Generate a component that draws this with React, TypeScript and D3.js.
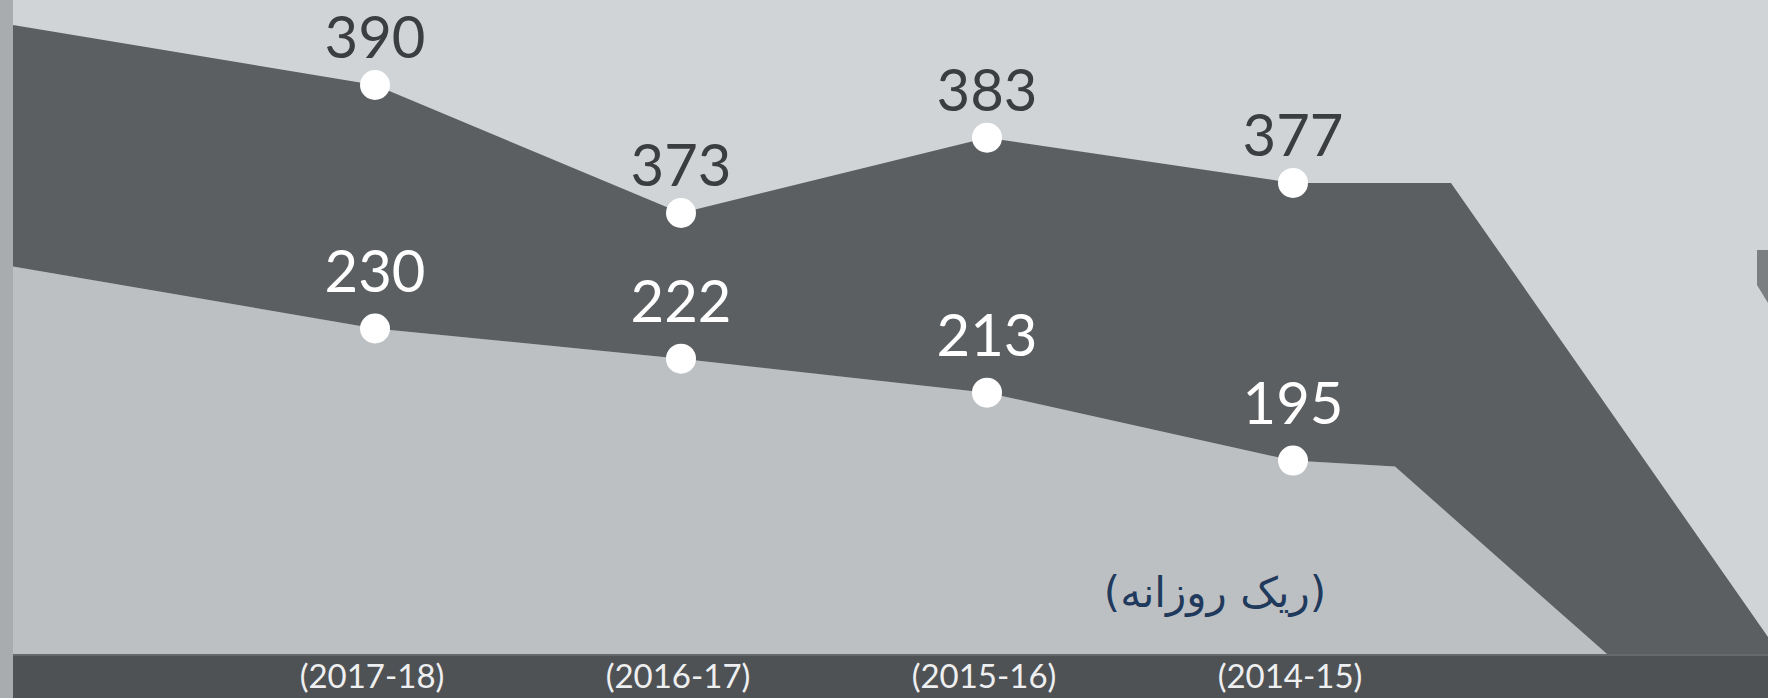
import React from "react";
import * as d3 from "d3";

const categories = ["(2017-18)", "(2016-17)", "(2015-16)", "(2014-15)"];
const upperValues = [390, 373, 383, 377];
const lowerValues = [230, 222, 213, 195];
const unitLabel = "(ریک روزانه)";

const W = 1768;
const H = 698;
const STRIP = 13;
const BAR_TOP = 654;

export default function App() {
  const x = d3.scalePoint<string>().domain(categories).range([375, 1293]);
  const yU = d3.scaleLinear().domain([373, 390]).range([213, 85]);
  const yL = d3.scaleLinear().domain([195, 230]).range([460.6, 328.5]);

  const up = categories.map((c, i) => [x(c) as number, yU(upperValues[i])] as [number, number]);
  const lo = categories.map((c, i) => [x(c) as number, yL(lowerValues[i])] as [number, number]);

  const lastU = up[up.length - 1];
  const lastL = lo[lo.length - 1];

  const topEdge: [number, number][] = [
    [STRIP, up[0][1] - 60],
    ...up,
    [lastU[0] + 158, lastU[1]],
    [W, BAR_TOP - 17],
    [W, BAR_TOP],
  ];
  const bottomEdge: [number, number][] = [
    [STRIP, lo[0][1] - 62],
    ...lo,
    [lastL[0] + 102, lastL[1] + 6],
    [lastL[0] + 314, BAR_TOP],
  ];
  const line = d3.line();
  const darkPath = line([...topEdge, ...bottomEdge.slice().reverse()]) + "Z";
  const lowerPath = line([...bottomEdge, [STRIP, BAR_TOP]]) + "Z";

  const font = "Lato, 'Open Sans', sans-serif";

  return (
    <svg
      width={W}
      height={H}
      style={{ position: "absolute", left: 0, top: 0, display: "block" }}
    >
      <rect x={0} y={0} width={W} height={H} fill="#d1d4d7" />
      <path d={lowerPath} fill="#bdc0c3" />
      <path d={darkPath} fill="#5c5f62" />
      <path d="M1757,250 L1768,250 L1768,303 L1757,285 Z" fill="#7c7f82" />
      <rect x={0} y={BAR_TOP} width={W} height={H - BAR_TOP} fill="#4f5255" />
      <rect x={0} y={BAR_TOP} width={W} height={2} fill="#66696c" />
      <rect x={0} y={0} width={STRIP} height={H} fill="#a8acaf" />

      {up.map((p, i) => (
        <g key={"u" + i}>
          <circle cx={p[0]} cy={p[1]} r={15} fill="#ffffff" />
          <text
            x={p[0]}
            y={p[1] - 27}
            textAnchor="middle"
            fontFamily={font}
            fontSize={58}
            fill="#3b3d40"
          >
            {upperValues[i]}
          </text>
        </g>
      ))}
      {lo.map((p, i) => (
        <g key={"l" + i}>
          <circle cx={p[0]} cy={p[1]} r={15} fill="#ffffff" />
          <text
            x={p[0]}
            y={p[1] - 37}
            textAnchor="middle"
            fontFamily={font}
            fontSize={58}
            fill="#ffffff"
          >
            {lowerValues[i]}
          </text>
        </g>
      ))}

      {categories.map((c) => (
        <text
          key={c}
          x={(x(c) as number) - 3}
          y={688}
          textAnchor="middle"
          fontFamily={font}
          fontSize={33}
          fill="#eeeff0"
        >
          {c}
        </text>
      ))}

      <text
        x={1215}
        y={607}
        textAnchor="middle"
        direction="rtl"
        fontFamily="'DejaVu Sans', sans-serif"
        fontSize={42}
        fill="#1f3a5c"
      >
        {unitLabel}
      </text>
    </svg>
  );
}
